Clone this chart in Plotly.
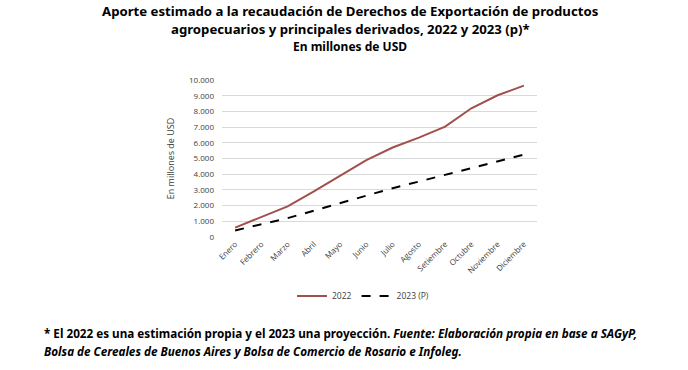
import plotly.graph_objects as go

months = ["Enero", "Febrero", "Marzo", "Abril", "Mayo", "Junio", "Julio",
          "Agosto", "Setiembre", "Octubre", "Noviembre", "Diciembre"]
v2022 = [600, 1250, 1950, 2900, 3900, 4900, 5700, 6330, 7030, 8200, 9030, 9640]
v2023 = [420, 800, 1200, 1680, 2160, 2620, 3110, 3530, 3960, 4390, 4850, 5250]
yticks = [0, 1000, 2000, 3000, 4000, 5000, 6000, 7000, 8000, 9000, 10000]

fig = go.Figure()
fig.add_trace(go.Scatter(x=months, y=v2022, mode="lines", name="2022",
                         line=dict(color="#a0504d", width=2)))
fig.add_trace(go.Scatter(x=months, y=v2023, mode="lines", name="2023 (P)",
                         line=dict(color="#000000", width=2, dash="dash")))

def px(xpix):
    return (xpix - 222) / 315

def py(ypix):
    return (237 - ypix) / 157

title_font = dict(family="Noto Sans", size=13.2, color="#000000")
fig.add_annotation(text="<b>Aporte estimado a la recaudación de Derechos de Exportación de productos</b>",
                   xref="paper", yref="paper", x=px(350), y=py(11),
                   xanchor="center", yanchor="middle", showarrow=False, font=title_font)
fig.add_annotation(text="<b>agropecuarios y principales derivados, 2022 y 2023 (p)*</b>",
                   xref="paper", yref="paper", x=px(350), y=py(29),
                   xanchor="center", yanchor="middle", showarrow=False, font=title_font)
fig.add_annotation(text="<b>En millones de USD</b>",
                   xref="paper", yref="paper", x=px(350), y=py(46),
                   xanchor="center", yanchor="middle", showarrow=False,
                   font=dict(family="Noto Sans", size=12, color="#000000"))
foot_font = dict(family="Noto Sans", size=11.7, color="#000000")
fig.add_annotation(text="<b>* El 2022 es una estimación propia y el 2023 una proyección. <i>Fuente: Elaboración propia en base a SAGyP,</i></b>",
                   xref="paper", yref="paper", x=px(42), y=py(333),
                   xanchor="left", yanchor="middle", showarrow=False, font=foot_font)
fig.add_annotation(text="<b><i>Bolsa de Cereales de Buenos Aires y Bolsa de Comercio de Rosario e Infoleg.</i></b>",
                   xref="paper", yref="paper", x=px(42), y=py(351),
                   xanchor="left", yanchor="middle", showarrow=False, font=foot_font)

fig.update_layout(
    width=688, height=370,
    margin=dict(l=222, r=151, t=80, b=133),
    paper_bgcolor="white", plot_bgcolor="white",
    separators=",.",
    showlegend=True,
    legend=dict(orientation="h", x=px(363), y=py(296),
                xanchor="center", yanchor="middle",
                font=dict(family="Open Sans", size=8.5, color="#404040")),
    font=dict(family="Open Sans", size=8, color="#404040"),
)
fig.update_xaxes(tickangle=-45, showgrid=False, showline=False, ticks="",
                 range=[-0.5, 11.5],
                 tickfont=dict(family="Open Sans", size=8, color="#404040"))
fig.update_yaxes(range=[0, 10000], tickvals=yticks, tickformat=",d",
                 showgrid=True, gridcolor="#d9d9d9", gridwidth=1, zeroline=False,
                 showline=False, ticks="", ticklabelstandoff=7,
                 title=dict(text="En millones de USD", font=dict(family="Open Sans", size=9, color="#404040"), standoff=12),
                 tickfont=dict(family="Open Sans", size=8, color="#404040"))

fig.write_html("out.html", config={"displayModeBar": False},
               post_script="document.body.style.margin='0';")
